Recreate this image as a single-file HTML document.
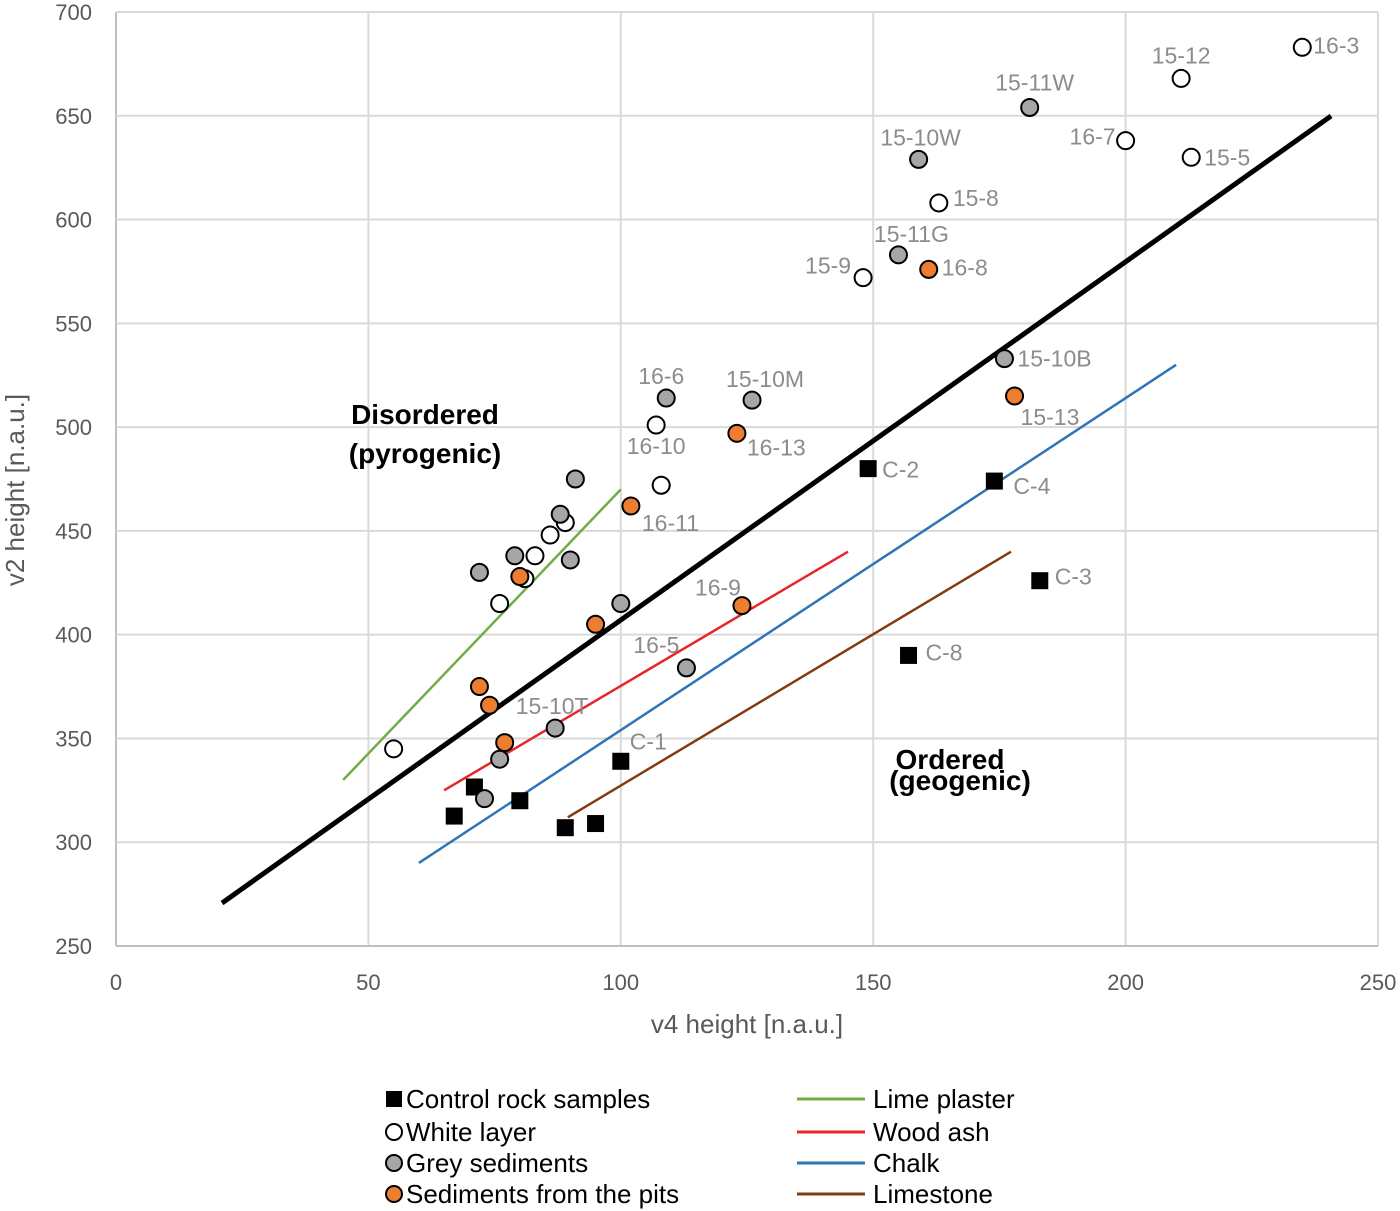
<!DOCTYPE html>
<html><head><meta charset="utf-8"><style>
html,body{margin:0;padding:0;background:#fff;}
svg{display:block;font-family:"Liberation Sans",sans-serif;}
</style></head><body>
<svg id="chart" width="1400" height="1211" viewBox="0 0 1400 1211">
<g id="grid"></g>
<g id="lines"></g>
<g id="pts"></g>
<g id="lbls"></g>
<g id="ticks"></g>
<text x="747" y="1033" font-size="26" fill="#595959" text-anchor="middle">v4 height [n.a.u.]</text>
<text transform="translate(24,490) rotate(-90)" font-size="26" fill="#595959" text-anchor="middle">v2 height [n.a.u.]</text>
<g font-size="28" font-weight="bold" fill="#000" text-anchor="middle">
<text x="425" y="424">Disordered</text><text x="425" y="463">(pyrogenic)</text></g>
<g font-size="28" font-weight="bold" fill="#000" text-anchor="middle">
<text x="950" y="769">Ordered</text><text x="960" y="790">(geogenic)</text></g>
<g id="legend" font-size="26" fill="#000"></g>
</svg>
<script>
const xTicks=[0,50,100,150,200,250];
const yTicks=[250,300,350,400,450,500,550,600,650,700];
const controlX=[67,71,80,89,95,100,149,174,183,157];
const controlY=[312.6,326.6,320,307,309,339,480,474,426,390];
const controlLbl=[["",0,0],["",0,0],["",0,0],["",0,0],["",0,0],["C-1",9,-20,"start"],["C-2",14,1,"start"],["C-4",19,5,"start"],["C-3",15,-4,"start"],["C-8",17,-3,"start"]];
const whiteX=[235,211,200,213,163,148,107,108,55,76,83,86,89,81];
const whiteY=[683,668,638,630,608,572,501,472,345,415,438,448,454,427];
const whiteLbl=[["16-3",11,-2,"start"],["15-12",0,-23,"middle"],["16-7",-10,-4,"end"],["15-5",13,0,"start"],["15-8",14,-5,"start"],["15-9",-12,-12,"end"],["16-10",0,21,"middle"]];
const greyX=[181,159,155,176,109,126,91,88,79,90,72,100,113,87,76,73];
const greyY=[654,629,583,533,514,513,475,458,438,436,430,415,384,355,340,321];
const greyLbl=[["15-11W",5,-25,"middle"],["15-10W",2,-22,"middle"],["15-11G",13,-21,"middle"],["15-10B",13,0,"start"],["16-6",-5,-22,"middle"],["15-10M",13,-21,"middle"],["",0,0],["",0,0],["",0,0],["",0,0],["",0,0],["",0,0],["16-5",-30,-23,"middle"],["15-10T",-3,-22,"middle"]];
const pitX=[161,178,123,102,80,124,95,72,74,77];
const pitY=[576,515,497,462,428,414,405,375,366,348];
const pitLbl=[["16-8",13,-2,"start"],["15-13",6,21,"start"],["16-13",10,14,"start"],["16-11",11,17,"start"],["",0,0],["16-9",-24,-18,"middle"]];
const lineNames=["Separation","Lime plaster","Wood ash","Chalk","Limestone"];
const lineX1=[21,45,65,60,89.5];
const lineY1=[270.7,330,325,290,312];
const lineX2=[240.7,100,145,210,177.3];
const lineY2=[649.9,470,440,530,440];
const lineColors=["#000","#70ad47","#e8262a","#2e75b6","#843c0c"];
const lineWidths=[5,2.5,2.5,2.5,2.5];

const NS="http://www.w3.org/2000/svg";
const X=v=>116+v*(1262/250);
const Y=v=>946-(v-250)*(934/450);
function mk(p,tag,attrs){const e=document.createElementNS(NS,tag);for(const k in attrs)e.setAttribute(k,attrs[k]);p.appendChild(e);return e;}
const grid=document.getElementById('grid'),ticks=document.getElementById('ticks');
xTicks.forEach(t=>{const l=mk(grid,'line',{x1:X(t),x2:X(t),y1:Y(700),y2:Y(250),stroke:t===0?'#bfbfbf':'#d9d9d9','stroke-width':2});


const tx=mk(ticks,'text',{x:X(t),y:990,'font-size':22,fill:'#595959','text-anchor':'middle'});tx.textContent=t;

});
yTicks.forEach(t=>{const l=mk(grid,'line',{x1:X(0),x2:X(250),y1:Y(t),y2:Y(t),stroke:t===250?'#bfbfbf':'#d9d9d9','stroke-width':2});


const tx=mk(ticks,'text',{x:92,y:Y(t)+8,'font-size':22,fill:'#595959','text-anchor':'end'});tx.textContent=t;

});
const lg=document.getElementById('lines');
lineNames.forEach((n,i)=>{const l=mk(lg,'line',{x1:X(lineX1[i]),y1:Y(lineY1[i]),x2:X(lineX2[i]),y2:Y(lineY2[i]),stroke:lineColors[i],'stroke-width':lineWidths[i]});

});
const pg=document.getElementById('pts'),lb=document.getElementById('lbls');
function series(xs,ys,lbls,kind,fill,name){xs.forEach((v,i)=>{const cx=X(v),cy=Y(ys[i]);let m;
if(kind==='sq'){m=mk(pg,'rect',{x:cx-8.5,y:cy-8.5,width:17,height:17,fill:'#000'});}
else{m=mk(pg,'circle',{cx:cx,cy:cy,r:8.5,fill:fill,stroke:'#000','stroke-width':2});}


const L=lbls[i];if(L&&L[0]){const t=mk(lb,'text',{x:cx+L[1],y:cy+L[2]+8,'font-size':23,fill:'#8c8c8c','text-anchor':L[3]});t.textContent=L[0];

}});}
series(controlX,controlY,controlLbl,'sq','#000','control-rock');
series(whiteX,whiteY,whiteLbl,'c','#fff','white-layer');
series(greyX,greyY,greyLbl,'c','#a6a6a6','grey-sediment');
series(pitX,pitY,pitLbl,'c','#ed7d31','pit-sediment');
const leg=document.getElementById('legend');
const mk1=[["Control rock samples","sq","#000"],["White layer","c","#fff"],["Grey sediments","c","#a6a6a6"],["Sediments from the pits","c","#ed7d31"]];
const rowsY=[1099,1132,1163,1194];
mk1.forEach((m,i)=>{let e;if(m[1]==='sq')e=mk(leg,'rect',{x:386,y:rowsY[i]-8,width:16,height:16,fill:'#000'});
else e=mk(leg,'circle',{cx:394,cy:rowsY[i],r:8,fill:m[2],stroke:'#000','stroke-width':2});


const t=mk(leg,'text',{x:406,y:rowsY[i]+9});t.textContent=m[0];

});
for(let i=1;i<5;i++){const e=mk(leg,'line',{x1:797,x2:865,y1:rowsY[i-1],y2:rowsY[i-1],stroke:lineColors[i],'stroke-width':3});


const t=mk(leg,'text',{x:873,y:rowsY[i-1]+9});t.textContent=lineNames[i];

}
</script>
</body></html>
